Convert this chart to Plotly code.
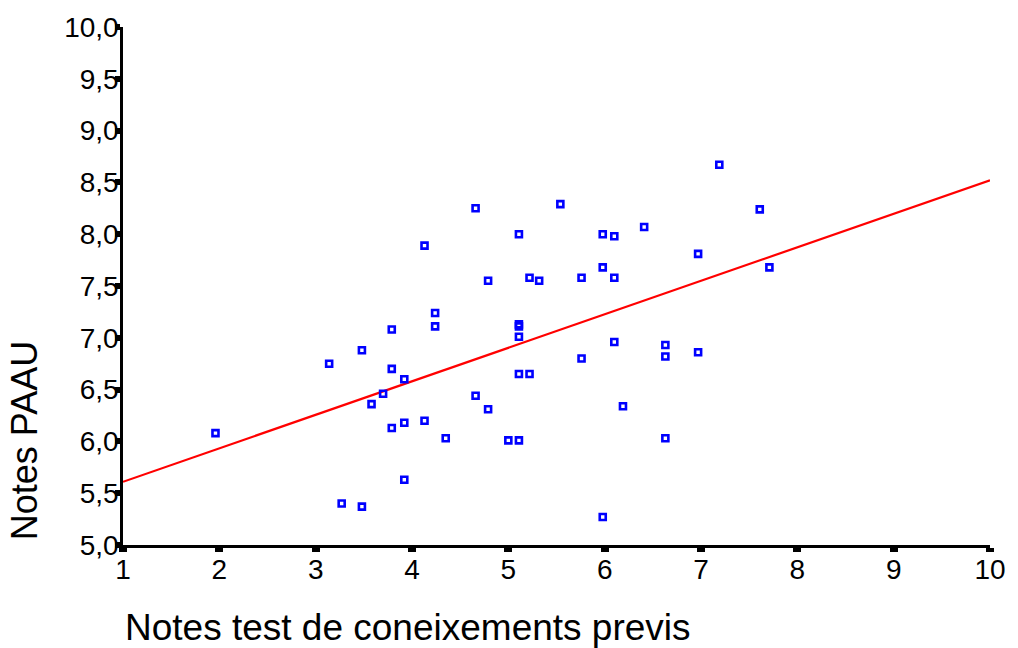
import plotly.graph_objects as go

# Scatter data
x_vals = [1.96, 3.14, 3.27, 3.48, 3.48, 3.58, 3.70, 3.79, 3.79, 3.79,
          3.92, 3.92, 3.92, 4.13, 4.13, 4.24, 4.24, 4.35, 4.66, 4.66,
          4.79, 4.79, 5.00, 5.11, 5.11, 5.11, 5.11, 5.11, 5.11, 5.22,
          5.22, 5.32, 5.54, 5.76, 5.76, 5.98, 5.98, 5.98, 6.10, 6.10,
          6.10, 6.19, 6.41, 6.63, 6.63, 6.63, 6.97, 6.97, 7.19, 7.61,
          7.71]
y_vals = [6.08, 6.75, 5.40, 6.88, 5.37, 6.36, 6.46, 7.08, 6.70, 6.13,
          6.60, 6.18, 5.63, 7.89, 6.20, 7.24, 7.11, 6.03, 8.25, 6.44,
          7.55, 6.31, 6.01, 6.01, 8.00, 7.13, 7.11, 7.01, 6.65, 7.58,
          6.65, 7.55, 8.29, 7.58, 6.80, 8.00, 7.68, 5.27, 7.98, 7.58,
          6.96, 6.34, 8.07, 6.93, 6.82, 6.03, 7.81, 6.86, 8.67, 8.24,
          7.68]

# Fitted line endpoints
fit_x = [1, 10]
fit_y = [5.61, 8.52]

x_ticks = [1, 2, 3, 4, 5, 6, 7, 8, 9, 10]
y_ticks = [5.0, 5.5, 6.0, 6.5, 7.0, 7.5, 8.0, 8.5, 9.0, 9.5, 10.0]

x_title = "Notes test de coneixements previs"
y_title = "Notes PAAU"

FONT = "Liberation Sans, Arial, sans-serif"

fig = go.Figure()
fig.add_trace(go.Scatter(
    x=fit_x, y=fit_y, mode="lines",
    line=dict(color="#ff0000", width=2.2),
    showlegend=False, hoverinfo="skip",
))
fig.add_trace(go.Scatter(
    x=x_vals, y=y_vals, mode="markers",
    marker=dict(symbol="square-open", size=6, color="#0000ff",
                line=dict(color="#0000ff", width=2.6)),
    showlegend=False,
))

fig.update_layout(
    width=1018, height=648,
    margin=dict(l=123, r=24, t=27, b=103),
    paper_bgcolor="white", plot_bgcolor="white",
    separators=",.",
    font=dict(family=FONT, size=27, color="black"),
    xaxis=dict(
        range=[1, 10], tickmode="array", tickvals=x_ticks,
        showgrid=False, zeroline=False,
        showline=True, linecolor="black", linewidth=2.5,
        ticks="outside", ticklen=4, tickwidth=8, tickcolor="black",
        ticklabelstandoff=-6,
        tickfont=dict(family=FONT, size=28, color="black"),
    ),
    yaxis=dict(
        range=[5, 10], tickmode="array", tickvals=y_ticks,
        tickformat=".1f",
        showgrid=False, zeroline=False,
        showline=True, linecolor="black", linewidth=2.5,
        ticks="outside", ticklen=5, tickwidth=6, tickcolor="black",
        ticklabelstandoff=-9,
        tickfont=dict(family=FONT, size=28, color="black"),
    ),
    annotations=[
        dict(text=x_title, xref="paper", yref="paper", x=0.0, y=-0.16,
             xanchor="left", yanchor="middle", showarrow=False,
             font=dict(family=FONT, size=37, color="black")),
        dict(text=y_title, xref="paper", yref="paper", x=-0.1126, y=0.201,
             xanchor="center", yanchor="middle", textangle=-90, showarrow=False,
             font=dict(family=FONT, size=36, color="black")),
    ],
)

fig.write_html("out.html")
